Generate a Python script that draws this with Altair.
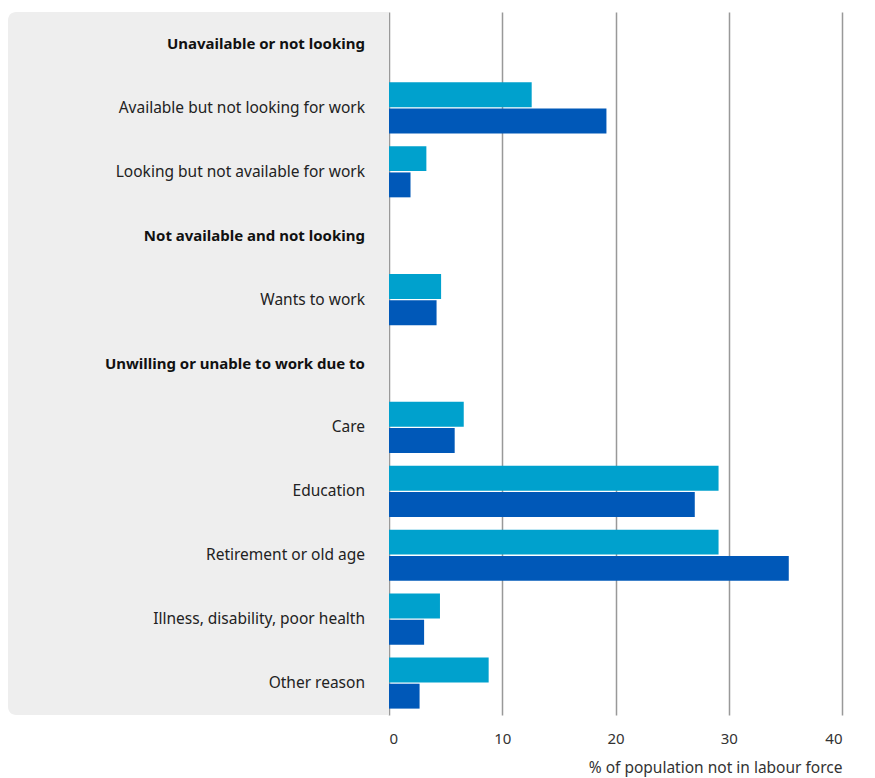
import altair as alt
import pandas as pd

categories = [
    "Unavailable or not looking",
    "Available but not looking for work",
    "Looking but not available for work",
    "Not available and not looking",
    "Wants to work",
    "Unwilling or unable to work due to",
    "Care",
    "Education",
    "Retirement or old age",
    "Illness, disability, poor health",
    "Other reason",
]
is_header = [True, False, False, True, False, True, False, False, False, False, False]
series = ["Series 1", "Series 2"]
series1 = [None, 12.6, 3.3, None, 4.6, None, 6.6, 29.1, 29.1, 4.5, 8.8]
series2 = [None, 19.2, 1.9, None, 4.2, None, 5.8, 27.0, 35.3, 3.1, 2.7]
colors = ["#00a1cd", "#0058b8"]
x_ticks = [0, 10, 20, 30, 40]
x_title = "% of population not in labour force"

FONT = "Noto Sans"
W, H = 453, 703

rows = []
for c, a, b in zip(categories, series1, series2):
    if a is not None:
        rows.append({"category": c, "series": series[0], "value": a})
    if b is not None:
        rows.append({"category": c, "series": series[1], "value": b})
bars_df = pd.DataFrame(rows)
labels_df = pd.DataFrame({"category": categories, "bold": is_header})

yscale = alt.Scale(domain=categories, paddingInner=0.2, paddingOuter=0.1)

panel = alt.Chart(pd.DataFrame({"a": [0]})).mark_rect(
    color="#eeeeee", cornerRadiusTopLeft=8, cornerRadiusBottomLeft=8
).encode(
    x=alt.value(-381), x2=alt.value(0), y=alt.value(0), y2=alt.value(H)
)

bars = alt.Chart(bars_df).mark_bar().encode(
    y=alt.Y(
        "category:N",
        scale=yscale,
        sort=categories,
        axis=alt.Axis(
            title=None, labels=False, ticks=False, grid=False,
            domain=True, domainColor="#666666", domainWidth=3, zindex=1,
        ),
    ),
    yOffset=alt.YOffset("series:N", sort=series, scale=alt.Scale(paddingInner=0.05)),
    x=alt.X(
        "value:Q",
        scale=alt.Scale(domain=[0, 40]),
        axis=alt.Axis(
            values=x_ticks, grid=True, gridColor="#999999", gridWidth=1.5,
            domain=False, ticks=False, labelPadding=16, labelFontSize=15,
            labelFont=FONT, labelColor="#333333",
            title=x_title, titleAnchor="end", titleFontWeight="normal",
            titleFontSize=15.5, titleFont=FONT, titleColor="#333333", titlePadding=14,
        ),
    ),
    color=alt.Color("series:N", scale=alt.Scale(domain=series, range=colors), legend=None),
)

text_normal = alt.Chart(labels_df).transform_filter("!datum.bold").mark_text(
    align="right", baseline="middle", fontSize=15.5, font=FONT, color="#222222"
).encode(
    y=alt.Y("category:N", scale=yscale, sort=categories, axis=None),
    x=alt.value(-24),
    text="category:N",
)
text_bold = alt.Chart(labels_df).transform_filter("datum.bold").mark_text(
    align="right", baseline="middle", fontSize=15, font=FONT, color="#111111", fontWeight="bold"
).encode(
    y=alt.Y("category:N", scale=yscale, sort=categories, axis=None),
    x=alt.value(-24),
    text="category:N",
)

chart = alt.layer(panel, bars, text_normal, text_bold).properties(
    width=W, height=H, padding={"left": 0, "top": 4, "right": 10, "bottom": 5}
).configure_view(stroke=None)

chart.save("out.html", embed_options={"renderer": "svg", "actions": False})
